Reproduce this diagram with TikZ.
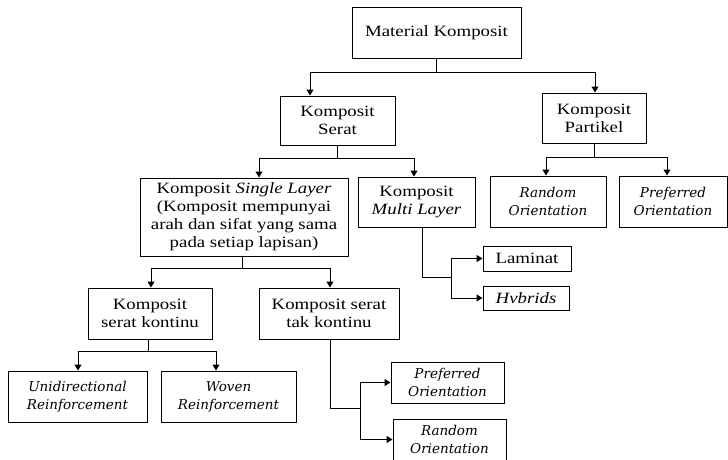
\documentclass[tikz,border=0pt]{standalone}
\usepackage{fontspec}
\setmainfont{Liberation Serif}[FakeStretch=1.2]
\newfontfamily\slab{DejaVu Serif}
\usetikzlibrary{arrows.meta}

\begin{document}
\begin{tikzpicture}[x=1pt,y=-1pt,
  box/.style={draw, line width=1pt, align=center, inner sep=0pt,
    font=\fontsize{15.7}{18}\selectfont},
  ibox/.style={box, font=\slab\itshape\fontsize{13.5}{18}\selectfont},
  link/.style={line width=1pt},
  arr/.style={link, -{Triangle[length=6pt,width=7pt]}},
]
\useasboundingbox (0,0) rectangle (728,459);

% boxes
\node[box, minimum width=169pt, minimum height=51pt] (mk) at (436.5,32.5) {Material Komposit};
\node[box, minimum width=115pt, minimum height=49pt] (ks) at (337.5,120.5) {Komposit\\Serat};
\node[box, minimum width=104pt, minimum height=50pt] (kp) at (594,118) {Komposit\\Partikel};
\node[box, minimum width=208pt, minimum height=78pt] (ksl) at (244,217)
  {Komposit \textit{Single Layer}\\(Komposit mempunyai\\arah dan sifat yang sama\\pada setiap lapisan)};
\node[box, minimum width=117pt, minimum height=50pt] (kml) at (416.5,202) {Komposit\\\textit{Multi Layer}};
\node[ibox, minimum width=116pt, minimum height=51pt] (rop) at (548,201.5) {Random\\Orientation};
\node[ibox, minimum width=108pt, minimum height=51pt] (pop) at (673,201.5) {Preferred\\Orientation};
\node[box, minimum width=124pt, minimum height=51pt] (skon) at (150,313.5) {Komposit\\serat kontinu};
\node[box, minimum width=140pt, minimum height=51pt] (stk) at (329,313.5) {Komposit serat\\tak kontinu};
\node[ibox, minimum width=139pt, minimum height=51pt] (uni) at (77.5,396.5) {Unidirectional\\Reinforcement};
\node[ibox, minimum width=135pt, minimum height=51pt] (wov) at (228.5,396.5) {Woven\\Reinforcement};
\node[box, minimum width=88pt, minimum height=25pt] (lam) at (527,258.5) {Laminat};
\node[box, minimum width=86pt, minimum height=24pt] (hyb) at (526,298) {\textit{Hvbrids}};
\node[ibox, minimum width=113pt, minimum height=41pt] (pref) at (447.5,382.5) {Preferred\\Orientation};
\node[ibox, minimum width=113pt, minimum height=41pt] (rand) at (449.5,439.5) {Random\\Orientation};

% connectors
\draw[link] (mk.south) -- ++(0,14) coordinate (j1);
\draw[arr] (j1) -| ([xshift=-27.5pt]ks.north);
\draw[arr] (j1) -| ([xshift=1pt]kp.north);

\draw[link] (ks.south) -- ++(0,13) coordinate (j2);
\draw[arr] (j2) -| ([xshift=15pt]ksl.north);
\draw[arr] (j2) -| ([xshift=-2.5pt]kml.north);

\draw[link] (kp.south) -- ++(0,14) coordinate (j3);
\draw[arr] (j3) -| ([xshift=-2pt]rop.north);
\draw[arr] (j3) -| ([xshift=-6pt]pop.north);

\draw[link] ([xshift=-2pt]ksl.south) -- ++(0,12) coordinate (j4);
\draw[arr] (j4) -| ([xshift=1pt]skon.north);
\draw[arr] (j4) -| ([xshift=1pt]stk.north);

\draw[link] ([xshift=-2pt]skon.south) -- ++(0,12) coordinate (j5);
\draw[arr] (j5) -| ([xshift=0.5pt]uni.north);
\draw[arr] (j5) -| ([xshift=-12.5pt]wov.north);

\draw[link] ([xshift=5.5pt]kml.south) -- ++(0,50) -- ++(29,0) coordinate (j6);
\draw[arr] (j6) |- (lam.west);
\draw[arr] (j6) |- (hyb.west);

\draw[link] ([xshift=1pt]stk.south) -- ++(0,69) -- ++(30,0) coordinate (j7);
\draw[arr] (j7) |- (pref.west);
\draw[arr] (j7) |- (rand.west);
\end{tikzpicture}
\end{document}
